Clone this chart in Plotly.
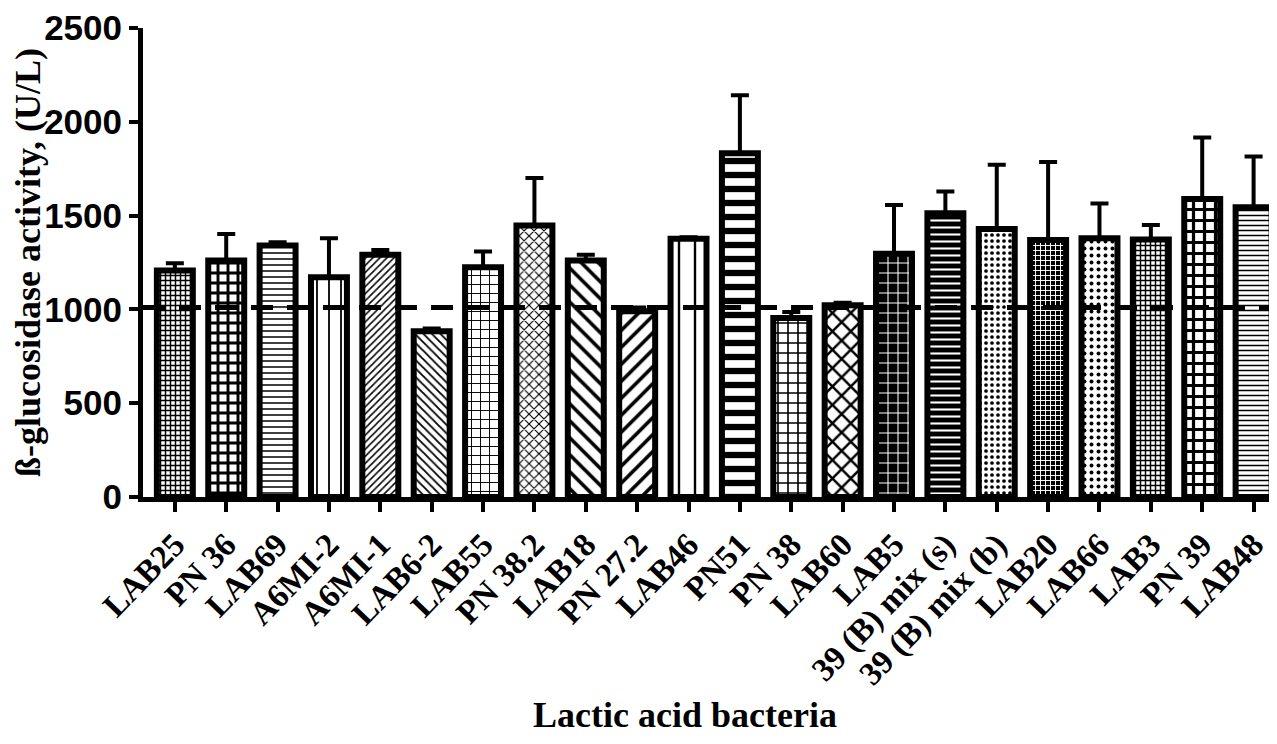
import plotly.graph_objects as go

categories = ["LAB25", "PN 36", "LAB69", "A6MI-2", "A6MI-1", "LAB6-2", "LAB55",
              "PN 38.2", "LAB18", "PN 27.2", "LAB46", "PN51", "PN 38", "LAB60",
              "LAB5", "39 (B) mix (s)", "39 (B) mix (b)", "LAB20", "LAB66", "LAB3",
              "PN 39", "LAB48"]
activity = [1207, 1261, 1340, 1172, 1291, 883, 1225, 1447, 1261, 990, 1376, 1832,
            954, 1022, 1296, 1512, 1429, 1370, 1379, 1372, 1588, 1544]
sd = [39, 141, 18, 207, 26, 15, 83, 253, 30, 20, 9, 309,
      32, 14, 260, 117, 342, 416, 186, 78, 328, 271]
reference_level = 1010
y_ticks = [0, 500, 1000, 1500, 2000, 2500]

# pattern styles per bar
p_shape = ["+", "+", "-", "|", "/", "\\", "+", "x", "\\", "/", "|", "-",
           "+", "x", "+", "-", ".", "+", ".", "+", "+", "-"]
p_size = [5, 10, 6, 12, 5, 6, 9, 7, 12, 12, 16, 14,
          10, 13, 10, 7, 6, 5, 7, 5, 11, 5]
p_sol = [0.5, 0.5, 0.25, 0.15, 0.3, 0.3, 0.2, 0.3, 0.3, 0.3, 0.15, 0.45,
         0.3, 0.35, 0.2, 0.3, 0.3, 0.35, 0.25, 0.5, 0.5, 0.3]
p_fg = ["black"] * 22
p_bg = ["white"] * 22
for i in (14, 15, 17):
    p_fg[i] = "white"
    p_bg[i] = "black"

fig = go.Figure()
fig.add_trace(go.Bar(
    x=categories, y=activity, width=0.7,
    marker=dict(color="white", line=dict(color="black", width=6),
                pattern=dict(shape=p_shape, size=p_size, solidity=p_sol,
                             fgcolor=p_fg, bgcolor=p_bg, fillmode="replace")),
    error_y=dict(type="data", array=sd, arrayminus=[0] * 22, symmetric=False,
                 color="black", thickness=4, width=9),
))

fig.add_shape(type="line", xref="paper", yref="y", x0=0, x1=1,
              y0=reference_level, y1=reference_level,
              line=dict(color="black", width=5, dash="22px,14px"), layer="above")

serif = "Liberation Serif, Times New Roman, serif"
fig.add_annotation(text="<b>Lactic acid bacteria</b>", xref="paper", yref="paper",
                   x=0.481, y=0, yshift=-218, xanchor="center", yanchor="middle",
                   showarrow=False, font=dict(family=serif, size=36, color="black"))

fig.update_layout(
    width=1261, height=728,
    margin=dict(l=135, r=0, t=20, b=239),
    paper_bgcolor="white", plot_bgcolor="white",
    showlegend=False,
    xaxis=dict(
        automargin=False,
        showline=True, linecolor="black", linewidth=5,
        ticks="outside", ticklen=10, tickwidth=4, tickcolor="black",
        tickangle=-46, range=[-0.62, 21.3],
        tickfont=dict(family=serif, size=33, color="black", weight="bold"),
        showgrid=False, zeroline=False,
    ),
    yaxis=dict(
        automargin=False,
        range=[0, 2500], tickvals=y_ticks,
        showline=True, linecolor="black", linewidth=5,
        ticks="outside", ticklen=9, tickwidth=4, tickcolor="black",
        tickfont=dict(family="Liberation Sans, Arial, sans-serif", size=35,
                      color="black", weight="bold"),
        title=dict(text="<b>ß-glucosidase activity, (U/L)</b>", standoff=12,
                   font=dict(family=serif, size=36, color="black")),
        showgrid=False, zeroline=False,
    ),
)

fig.write_html("out.html")
